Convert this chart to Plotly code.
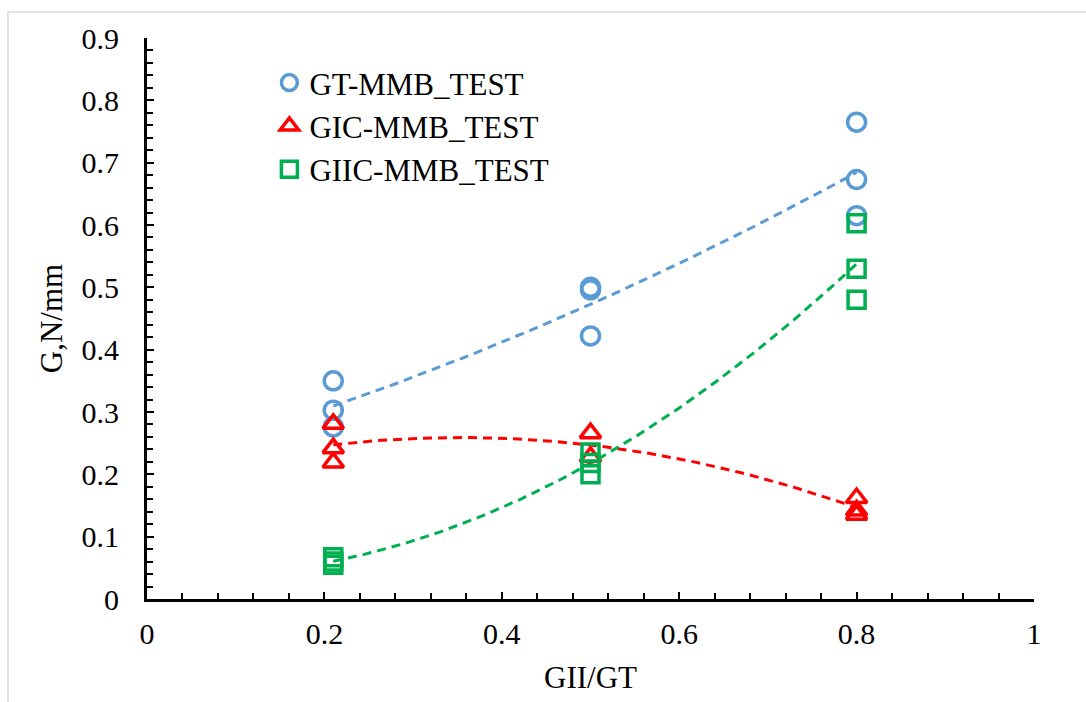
import numpy as np
import plotly.graph_objects as go

# ---- data ----
gt_x = [0.21, 0.21, 0.21, 0.5, 0.5, 0.5, 0.8, 0.8, 0.8]
gt_y = [0.350, 0.303, 0.276, 0.500, 0.496, 0.422, 0.765, 0.673, 0.615]

gic_x = [0.21, 0.21, 0.21, 0.5, 0.5, 0.8, 0.8, 0.8]
gic_y = [0.281, 0.242, 0.219, 0.266, 0.228, 0.162, 0.142, 0.135]

giic_x = [0.21, 0.21, 0.21, 0.5, 0.5, 0.5, 0.8, 0.8, 0.8]
giic_y = [0.067, 0.060, 0.055, 0.235, 0.218, 0.200, 0.603, 0.530, 0.480]

x_ticks = [0, 0.2, 0.4, 0.6, 0.8, 1]
x_tick_labels = ["0", "0.2", "0.4", "0.6", "0.8", "1"]
y_ticks = [0, 0.1, 0.2, 0.3, 0.4, 0.5, 0.6, 0.7, 0.8, 0.9]
y_tick_labels = ["0", "0.1", "0.2", "0.3", "0.4", "0.5", "0.6", "0.7", "0.8", "0.9"]

series = [
    ("GT-MMB_TEST", gt_x, gt_y, "#5B9BD5", "circle-open", 18),
    ("GIC-MMB_TEST", gic_x, gic_y, "#FF0000", "triangle-up-open", 18),
    ("GIIC-MMB_TEST", giic_x, giic_y, "#00B050", "square-open", 17),
]

FONT = "Liberation Serif, Times New Roman, serif"

fig = go.Figure()
for name, xs, ys, color, sym, sz in series:
    coef = np.polyfit(xs, ys, 2)
    xf = np.linspace(min(xs), max(xs), 120)
    yf = np.polyval(coef, xf)
    fig.add_trace(go.Scatter(x=xf, y=yf, mode="lines", showlegend=False,
                             line=dict(color=color, width=3, dash="9px,6px"),
                             hoverinfo="skip"))
for name, xs, ys, color, sym, sz in series:
    fig.add_trace(go.Scatter(x=xs, y=ys, mode="markers", name=name,
                             marker=dict(symbol=sym, size=sz, color=color,
                                         line=dict(color=color, width=3.5))))

W, H = 1086, 702
L, R, T, B = 147, 52, 38, 103
pw, ph = W - L - R, H - T - B

def px2paper(px, py):
    return (px - L) / pw, (H - B - py) / ph

x0, y0 = px2paper(8, 12)
x1, y1 = px2paper(1300, 900)

fig.update_layout(
    width=W, height=H,
    margin=dict(l=L, r=R, t=T, b=B, pad=0),
    paper_bgcolor="white", plot_bgcolor="white",
    font=dict(family=FONT, size=30, color="black"),
    showlegend=True,
    legend=dict(x=0.138, y=0.968, xanchor="left", yanchor="top",
                bgcolor="rgba(0,0,0,0)", font=dict(family=FONT, size=31),
                itemwidth=30, tracegroupgap=0),
    xaxis=dict(range=[0, 1], tickvals=x_ticks, ticktext=x_tick_labels,
               showgrid=False, zeroline=False, showline=True, linecolor="black",
               linewidth=3, ticks="inside", ticklen=7, tickwidth=2, tickcolor="black",
               minor=dict(dtick=0.04, tick0=0, ticks="inside", ticklen=6, tickwidth=2,
                          tickcolor="black", showgrid=False),
               title=dict(text="GII/GT", font=dict(family=FONT, size=31), standoff=18),
               tickfont=dict(family=FONT, size=30), ticklabelstandoff=6),
    yaxis=dict(range=[0, 0.9], tickvals=y_ticks, ticktext=y_tick_labels,
               showgrid=False, zeroline=False, showline=True, linecolor="black",
               linewidth=3, ticks="inside", ticklen=7, tickwidth=2, tickcolor="black",
               minor=dict(dtick=0.02, tick0=0, ticks="inside", ticklen=6, tickwidth=2,
                          tickcolor="black", showgrid=False),
               title=dict(text="G,N/mm", font=dict(family=FONT, size=31), standoff=10),
               tickfont=dict(family=FONT, size=30), ticklabelstandoff=19),
    shapes=[dict(type="rect", xref="paper", yref="paper", x0=x0, y0=y0, x1=x1, y1=y1,
                 line=dict(color="#D9D9D9", width=1.5), layer="below")],
)

fig.write_html("out.html", config={"displayModeBar": False},
               post_script="document.body.style.margin='0';")
